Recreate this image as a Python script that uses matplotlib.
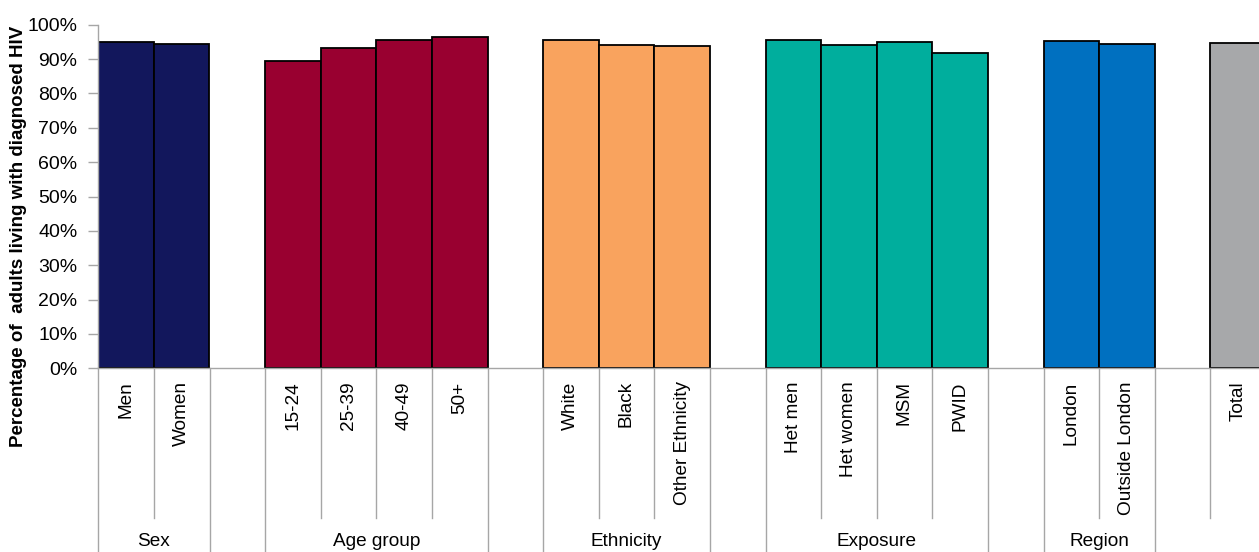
import matplotlib
matplotlib.use("Agg")
import matplotlib.pyplot as plt
from matplotlib.ticker import PercentFormatter
import matplotlib.transforms as mtransforms

plt.rcParams['font.family'] = ['Liberation Sans', 'DejaVu Sans']

# Data: share of adults living with diagnosed HIV, by breakdown
groups = ["Sex", "Age group", "Ethnicity", "Exposure", "Region", ""]
categories = [
    ["Men", "Women"],
    ["15-24", "25-39", "40-49", "50+"],
    ["White", "Black", "Other Ethnicity"],
    ["Het men", "Het women", "MSM", "PWID"],
    ["London", "Outside London"],
    ["Total"],
]
values = [
    [95.0, 94.5],
    [89.5, 93.2, 95.6, 96.4],
    [95.5, 94.2, 93.7],
    [95.6, 94.2, 95.0, 91.9],
    [95.2, 94.5],
    [94.7],
]
colors = ["#12175C", "#990030", "#F9A35E", "#00AE9D", "#0070C0", "#A7A8AA"]

W, H = 1259, 552
fig = plt.figure(figsize=(W / 100, H / 100), dpi=100)

x0, y0, y100 = 98.3, 368.3, 24.7
slot = 55.6
nslots = sum(len(c) for c in categories) + len(categories) - 1
ax = fig.add_axes([x0 / W, (H - y0) / H, nslots * slot / W, (y0 - y100) / H])

grid = "#A6A6A6"
trans = mtransforms.blended_transform_factory(ax.transData, ax.transAxes)
px = 1 / (y0 - y100)  # one pixel in axes-y units

def vline(x, depth_px):
    ax.plot([x, x], [0, -depth_px * px], color=grid, lw=1.0,
            transform=trans, clip_on=False, zorder=1)

pos = 0
for gi, (grp, cats, vals, col) in enumerate(zip(groups, categories, values, colors)):
    start = pos
    xs = [pos + i + 0.5 for i in range(len(cats))]
    ax.bar(xs, [v / 100 for v in vals], width=1.0, color=col,
           edgecolor="black", linewidth=1.3, zorder=2)
    for x, lab in zip(xs, cats):
        ax.text(x, -13 * px, lab, rotation=90, ha="center", va="top",
                fontsize=13.7, color="black", transform=trans)
    end = pos + len(cats)
    # separators between categories inside the group
    for k in range(1, len(cats)):
        vline(start + k, 150)
    if grp:
        vline(start, 250)
        vline(end, 250)
        ax.text((start + end) / 2, -(541 - y0) * px, grp, ha="center",
                va="center", fontsize=13.7, transform=trans, clip_on=False)
    else:
        vline(start, 150)
    pos = end + 1

ax.set_xlim(0, nslots)
ax.set_ylim(0, 1)
ax.set_yticks([i / 10 for i in range(11)])
ax.yaxis.set_major_formatter(PercentFormatter(1.0, decimals=0))
ax.tick_params(axis="y", direction="out", length=7, width=1, color=grid,
               labelsize=14, pad=8)
ax.set_xticks([])
for s in ["top", "right"]:
    ax.spines[s].set_visible(False)
for s in ["left", "bottom"]:
    ax.spines[s].set_color(grid)
    ax.spines[s].set_linewidth(1.0)
    ax.spines[s].set_zorder(3)

fig.text(18.5 / W, 1 - 236 / H, "Percentage of  adults living with diagnosed HIV",
         rotation=90, ha="center", va="center", fontsize=13.5, fontweight="bold")

fig.savefig("out.png", dpi=100)
